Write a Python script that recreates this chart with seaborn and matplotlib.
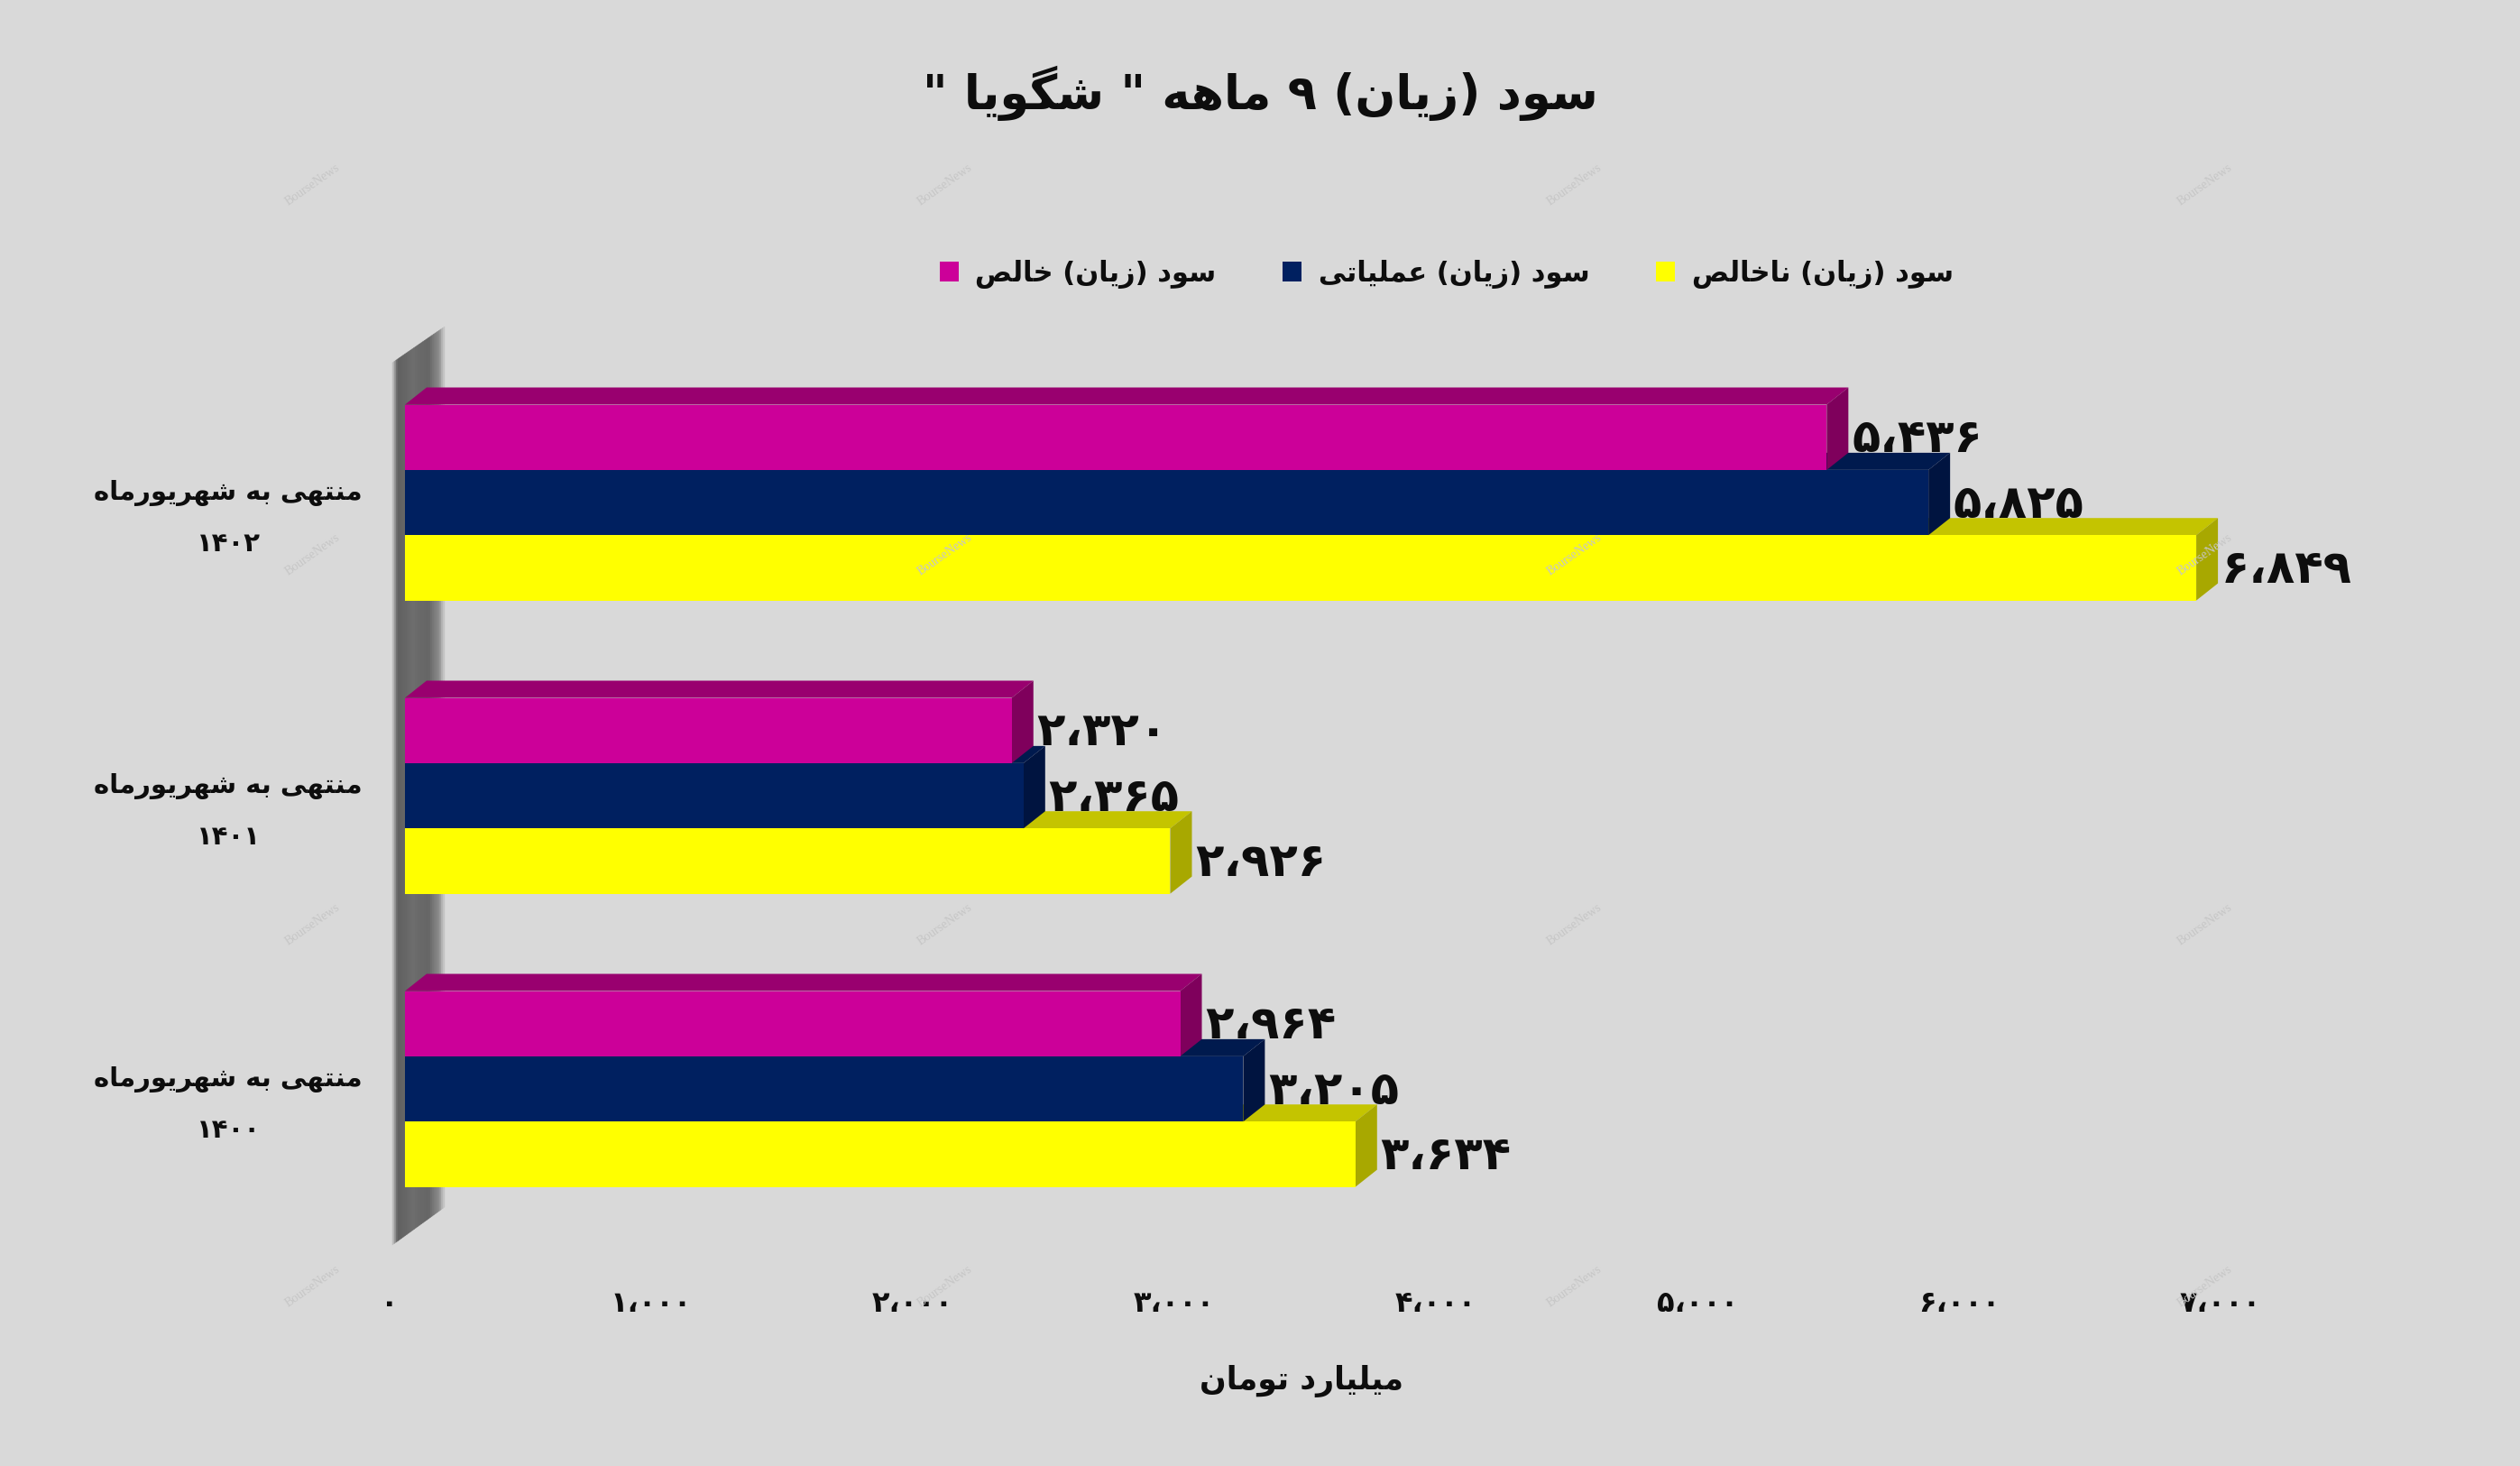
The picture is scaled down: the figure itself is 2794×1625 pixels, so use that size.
import re
import numpy as np
import pandas as pd
import matplotlib
matplotlib.use("Agg")
import matplotlib.pyplot as plt
import seaborn as sns
from matplotlib.patches import Polygon, Patch
from matplotlib.transforms import ScaledTranslation

# ---------------- data ----------------
periods = ["منتهی به شهریورماه\n۱۴۰۲", "منتهی به شهریورماه\n۱۴۰۱", "منتهی به شهریورماه\n۱۴۰۰"]
series = ["سود (زیان) خالص", "سود (زیان) عملیاتی", "سود (زیان) ناخالص"]
net_profit = [5436, 2320, 2964]
operating_profit = [5825, 2365, 3205]
gross_profit = [6849, 2926, 3634]
xticks = [0, 1000, 2000, 3000, 4000, 5000, 6000, 7000]
title = 'سود (زیان) ۹ ماهه " شگویا "'
xlabel = "میلیارد تومان"
watermark = "BourseNews"

front_colors = ["#CC0099", "#002060", "#FFFF00"]
top_colors = ["#99006F", "#001A4E", "#C4C400"]
side_colors = ["#7F005C", "#001440", "#A8A800"]

# ---------------- Arabic/Persian shaping (matplotlib has no complex text layout) ----------------
FORMS = {
    "\u0627": ("\uFE8D", "\uFE8E", None, None),
    "\u0628": ("\uFE8F", "\uFE90", "\uFE91", "\uFE92"),
    "\u062A": ("\uFE95", "\uFE96", "\uFE97", "\uFE98"),
    "\u062E": ("\uFEA5", "\uFEA6", "\uFEA7", "\uFEA8"),
    "\u062F": ("\uFEA9", "\uFEAA", None, None),
    "\u0631": ("\uFEAD", "\uFEAE", None, None),
    "\u0632": ("\uFEAF", "\uFEB0", None, None),
    "\u0633": ("\uFEB1", "\uFEB2", "\uFEB3", "\uFEB4"),
    "\u0634": ("\uFEB5", "\uFEB6", "\uFEB7", "\uFEB8"),
    "\u0635": ("\uFEB9", "\uFEBA", "\uFEBB", "\uFEBC"),
    "\u0639": ("\uFEC9", "\uFECA", "\uFECB", "\uFECC"),
    "\u0644": ("\uFEDD", "\uFEDE", "\uFEDF", "\uFEE0"),
    "\u0645": ("\uFEE1", "\uFEE2", "\uFEE3", "\uFEE4"),
    "\u0646": ("\uFEE5", "\uFEE6", "\uFEE7", "\uFEE8"),
    "\u0647": ("\uFEE9", "\uFEEA", "\uFEEB", "\uFEEC"),
    "\u0648": ("\uFEED", "\uFEEE", None, None),
    "\u06CC": ("\uFBFC", "\uFBFD", "\uFBFE", "\uFBFF"),
    "\u06AF": ("\uFB92", "\uFB93", "\uFB94", "\uFB95"),
}


def shape_line(s):
    out = []
    for i, c in enumerate(s):
        if c not in FORMS:
            out.append(c)
            continue
        prev = s[i - 1] if i > 0 else None
        nxt = s[i + 1] if i + 1 < len(s) else None
        cp = prev in FORMS and FORMS[prev][2] is not None
        cn = nxt in FORMS and FORMS[c][2] is not None
        iso, fin, ini, med = FORMS[c]
        out.append(med if (cp and cn) else fin if cp else ini if cn else iso)
    vis = "".join(out)[::-1]
    vis = vis.translate(str.maketrans("()", ")("))
    vis = re.sub(r"[\u06F0-\u06F9\u060C0-9]+", lambda m: m.group(0)[::-1], vis)
    return vis


def shape(s):
    return "\n".join(shape_line(l) for l in s.split("\n"))


FA_DIGITS = str.maketrans("0123456789,", "۰۱۲۳۴۵۶۷۸۹،")


def fa(n):
    return f"{n:,}".translate(FA_DIGITS)


# ---------------- figure ----------------
plt.rcParams["font.family"] = ["DejaVu Sans"]
plt.rcParams["font.weight"] = "bold"
TXT = "#0D0D0D"
BG = "#D9D9D9"
W_PX, H_PX = 2794, 1625
fig = plt.figure(figsize=(W_PX / 100, H_PX / 100), dpi=100, facecolor=BG)
ax = fig.add_axes([0.1607, 0.1472, 0.8303, 0.6200])
ax.set_facecolor("none")

df = pd.DataFrame({
    "period": periods * 3,
    "series": [series[0]] * 3 + [series[1]] * 3 + [series[2]] * 3,
    "value": net_profit + operating_profit + gross_profit,
})

sns.barplot(data=df, x="value", y="period", hue="series", order=periods, hue_order=series,
            palette=front_colors, saturation=1, width=0.668, orient="h", dodge=True,
            legend=False, linewidth=0, errorbar=None, ax=ax)

ax.set_xlim(0, 8000)
ax.set_ylim(2.55, -0.55)
for s in ax.spines.values():
    s.set_visible(False)

DX, DY = 24, 19  # 3D depth in pixels
inv = ax.transData.inverted()


def to_data(pts):
    return inv.transform(np.array(pts))


for k, cont in enumerate(ax.containers):
    zbase = 3 + (2 - k) * 0.5
    for rect in cont.patches:
        rect.set_zorder(zbase + 0.2)
        x0, y0 = rect.get_x(), rect.get_y()
        x1, y1 = x0 + rect.get_width(), y0 + rect.get_height()
        (dl, da), (dr, db) = ax.transData.transform([(x0, y0), (x1, y1)])
        left, right = min(dl, dr), max(dl, dr)
        top, bot = max(da, db), min(da, db)
        topface = to_data([(left, top), (right, top), (right + DX, top + DY), (left + DX, top + DY)])
        side = to_data([(right, bot), (right, top), (right + DX, top + DY), (right + DX, bot + DY)])
        ax.add_patch(Polygon(topface, closed=True, facecolor=top_colors[k], edgecolor="none",
                             zorder=zbase, clip_on=False))
        ax.add_patch(Polygon(side, closed=True, facecolor=side_colors[k], edgecolor="none",
                             zorder=zbase, clip_on=False))
        yc = y0 + rect.get_height() / 2
        ax.annotate(fa(int(round(rect.get_width()))), xy=(x1, yc), xytext=(20, -2),
                    textcoords="offset points", ha="left", va="center", fontsize=37,
                    fontweight="bold", color=TXT, zorder=6, annotation_clip=False)

# back wall (gradient strip with slanted ends)
x_zero = ax.transData.transform((0, 0))[0]
wl, wr = x_zero - 14, x_zero + 44
top_l, top_r = H_PX - 402, H_PX - 362
bot_l, bot_r = H_PX - 1380, H_PX - 1338
prof_t = [0.0, 0.04, 0.08, 0.12, 0.25, 0.4, 0.55, 0.7, 0.8, 0.9, 0.95, 1.0]
prof_g = [0.80, 0.66, 0.45, 0.38, 0.40, 0.43, 0.41, 0.40, 0.48, 0.55, 0.70, 0.80]
n = 29
for i in range(n):
    xa = wl + (wr - wl) * i / n
    xb = wl + (wr - wl) * (i + 1) / n
    g = np.interp((i + 0.5) / n, prof_t, prof_g)
    fa_ = lambda x, a, b: a + (b - a) * (x - wl) / (wr - wl)
    poly = [(xa, fa_(xa, bot_l, bot_r)), (xa, fa_(xa, top_l, top_r)),
            (xb, fa_(xb, top_l, top_r)), (xb, fa_(xb, bot_l, bot_r))]
    ax.add_patch(Polygon(to_data(poly), closed=True, facecolor=(g, g, g), edgecolor=(g, g, g),
                         linewidth=0.3, zorder=1, clip_on=False))

# axes text
ax.set_yticks(range(len(periods)), labels=[shape(p) for p in periods], ha="center",
              multialignment="center", linespacing=2.3)
ax.tick_params(axis="y", length=0, pad=141, labelsize=21, labelcolor=TXT)
ax.set_xticks(xticks, labels=[fa(t) for t in xticks])
ax.tick_params(axis="x", length=0, pad=32, labelsize=23, labelcolor=TXT)
for lab in ax.get_xticklabels():
    lab.set_transform(lab.get_transform() + ScaledTranslation(-0.17, 0, fig.dpi_scale_trans))
ax.set_ylabel("")
ax.set_xlabel(shape(xlabel), fontsize=25, fontweight="bold", color=TXT)
ax.xaxis.set_label_coords((1443 - 449) / 2320, -0.126)

fig.text(0.5, 1 - 103 / H_PX, shape(title), ha="center", va="center", fontsize=38,
         fontweight="bold", color=TXT)

handles = [Patch(facecolor=c, edgecolor="none") for c in front_colors]
fig.legend(handles, [shape(s) for s in series], loc="center", bbox_to_anchor=(0.574, 0.813),
           ncol=3, frameon=False, fontsize=22, handlelength=0.7, handleheight=0.7,
           handletextpad=0.6, columnspacing=2.4, labelcolor=TXT)

# faint watermarks
for wx in [347, 1048, 1746, 2445]:
    for wy in [205, 615, 1025, 1426]:
        fig.text(wx / W_PX, 1 - wy / H_PX, watermark, rotation=35, ha="center", va="center",
                 fontsize=10, color="#C6C6C6", family="Liberation Serif", fontweight="normal",
                 zorder=0)

fig.savefig("out.png", dpi=100, facecolor=BG)
